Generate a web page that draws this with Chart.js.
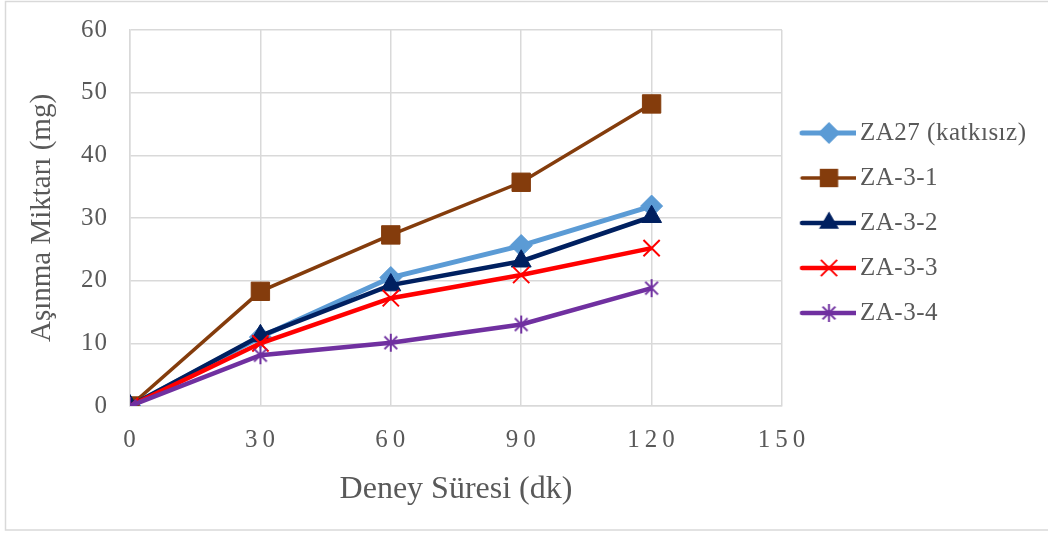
<!DOCTYPE html>
<html>
<head>
<meta charset="utf-8">
<script src="https://cdn.jsdelivr.net/npm/chart.js@4.4.1/dist/chart.umd.min.js"></script>
<style>
  html, body { margin: 0; padding: 0; background: #ffffff; }
  #wrap { width: 1048px; height: 534px; }
</style>
</head>
<body>
<div id="wrap"><canvas id="chart" width="1048" height="534"></canvas></div>
<script>
// Test duration (minutes) and wear loss (mg) for each alloy
const minutes = [0, 30, 60, 90, 120];
const seriesNames = ['ZA27 (katkısız)', 'ZA-3-1', 'ZA-3-2', 'ZA-3-3', 'ZA-3-4'];
const za27 = [0, 11.0, 20.5, 25.6, 31.9];
const za31 = [0, 18.3, 27.3, 35.7, 48.2];
const za32 = [0, 11.2, 19.3, 23.1, 30.2];
const za33 = [0, 10.0, 17.2, 20.9, 25.2];
const za34 = [0, 8.1, 10.1, 13.0, 18.8];
const xTickValues = [0, 30, 60, 90, 120, 150];
const yTickValues = [0, 10, 20, 30, 40, 50, 60];
const xTitle = 'Deney Süresi (dk)';
const yTitle = 'Aşınma Miktarı (mg)';

const FONT = "'Liberation Serif', 'Times New Roman', serif";
const TEXT = '#595959';
const GRID = '#d9d9d9';

// six-armed asterisk marker (diagonal cross plus a vertical bar)
function asteriskMarker(color, size, lw) {
  const c = document.createElement('canvas');
  c.width = size; c.height = size;
  const g = c.getContext('2d');
  const m = size / 2, r = size / 2 - 1;
  const d = r * Math.SQRT1_2;
  g.strokeStyle = color; g.lineWidth = lw; g.lineCap = 'butt';
  g.beginPath();
  g.moveTo(m, m - r); g.lineTo(m, m + r);
  g.moveTo(m - d, m - d); g.lineTo(m + d, m + d);
  g.moveTo(m - d, m + d); g.lineTo(m + d, m - d);
  g.stroke();
  return c;
}

const styles = [
  { color: '#5B9BD5', width: 5, point: 'rectRot', radius: 11, pw: 1 },
  { color: '#843C0C', width: 3.5, point: 'rect', radius: 13, pw: 1 },
  { color: '#002060', width: 4.5, point: 'triangle', radius: 11.5, pw: 1 },
  { color: '#FF0000', width: 4.5, point: 'crossRot', radius: 11.5, pw: 2 },
  { color: '#7030A0', width: 4.5, point: asteriskMarker('#7030A0', 20, 2), radius: 9, pw: 2 }
];
const values = [za27, za31, za32, za33, za34];

// legend icon: a line segment with the series marker on it
function legendIcon(st) {
  const W = 62, H = 28;
  const c = document.createElement('canvas');
  c.width = W; c.height = H;
  const g = c.getContext('2d');
  const cy = H / 2, x0 = 8.25, x1 = 62.25, cx = (x0 + x1) / 2;
  g.strokeStyle = st.color; g.lineWidth = st.width; g.lineCap = 'round';
  g.beginPath(); g.moveTo(x0, cy); g.lineTo(x1 - 1, cy); g.stroke();
  g.fillStyle = st.color; g.strokeStyle = st.color; g.lineCap = 'butt';
  const r = st.radius;
  if (typeof st.point !== 'string') {
    g.drawImage(st.point, cx - st.point.width / 2, cy - st.point.height / 2);
  } else if (st.point === 'rectRot') {
    g.beginPath(); g.moveTo(cx, cy - r); g.lineTo(cx + r, cy); g.lineTo(cx, cy + r); g.lineTo(cx - r, cy); g.closePath(); g.fill();
  } else if (st.point === 'rect') {
    const s = r * Math.SQRT1_2; g.fillRect(cx - s, cy - s, 2 * s, 2 * s);
  } else if (st.point === 'triangle') {
    g.beginPath();
    for (let k = 0; k < 3; k++) {
      const a = k * 2 * Math.PI / 3;
      const px = cx + Math.sin(a) * r, py = cy - Math.cos(a) * r;
      if (k === 0) g.moveTo(px, py); else g.lineTo(px, py);
    }
    g.closePath(); g.fill();
  } else if (st.point === 'crossRot') {
    const d = r * Math.SQRT1_2; g.lineWidth = st.pw;
    g.beginPath(); g.moveTo(cx - d, cy - d); g.lineTo(cx + d, cy + d); g.moveTo(cx - d, cy + d); g.lineTo(cx + d, cy - d); g.stroke();
  }
  return c;
}

const datasets = seriesNames.map((name, i) => ({
  label: name,
  data: minutes.map((m, j) => ({ x: m, y: values[i][j] })),
  borderColor: styles[i].color,
  backgroundColor: styles[i].color,
  borderWidth: styles[i].width,
  pointStyle: styles[i].point,
  pointRadius: styles[i].radius,
  pointHoverRadius: styles[i].radius,
  pointBorderWidth: styles[i].pw,
  pointBorderColor: styles[i].color,
  pointBackgroundColor: styles[i].color,
  tension: 0,
  order: seriesNames.length - i
}));
const icons = styles.map(legendIcon);

const framePlugin = {
  id: 'frame',
  beforeDraw(chart) {
    const ctx = chart.ctx;
    ctx.save();
    ctx.fillStyle = '#ffffff';
    ctx.fillRect(0, 0, chart.width, chart.height);
    ctx.strokeStyle = GRID; ctx.lineWidth = 1.5;
    ctx.strokeRect(5.5, 1.5, chart.width + 10, 528.5);
    ctx.restore();
  }
};

function spaced(obj, key, spacing, dx) {
  if (obj['_sp_' + key]) return;
  const orig = obj[key];
  obj[key] = function (...args) {
    const ctx = this.ctx;
    ctx.save();
    ctx.letterSpacing = spacing;
    if (dx) ctx.translate(dx, 0);
    orig.apply(this, args);
    ctx.restore();
  };
  obj['_sp_' + key] = true;
}

const tweakPlugin = {
  id: 'tweak',
  beforeLayout(chart) {
    const lg = chart.legend;
    if (lg && !lg._fixedFit) {
      const f = lg.fit;
      lg.fit = function () { f.call(this); this.width = 266; };
      lg._fixedFit = true;
    }
  },
  afterLayout(chart) {
    const lg = chart.legend;
    lg.top = 35; lg.bottom = 411; lg.height = 376;
    spaced(chart.scales.x, 'drawLabels', '5px', 2);
    spaced(chart.scales.y, 'drawLabels', '1px', 0);
    spaced(lg, 'draw', '0.5px', 0);
  }
};

function noEdgePadding(s) {
  s.paddingTop = 0; s.paddingBottom = 0; s.paddingLeft = 0; s.paddingRight = 0;
}

new Chart(document.getElementById('chart'), {
  type: 'line',
  data: { datasets },
  plugins: [framePlugin, tweakPlugin],
  options: {
    responsive: false,
    animation: false,
    devicePixelRatio: 1,
    layout: { padding: { left: 5, right: 0, top: 30, bottom: 8 } },
    font: { family: FONT },
    plugins: {
      tooltip: { enabled: false },
      legend: {
        position: 'right',
        fullSize: false,
        labels: {
          usePointStyle: true,
          pointStyleWidth: 45.5,
          padding: 20,
          color: TEXT,
          font: { family: FONT, size: 25 },
          generateLabels: () => seriesNames.map((n, i) => ({
            text: n, pointStyle: icons[i], fillStyle: styles[i].color,
            strokeStyle: styles[i].color, lineWidth: 0, hidden: false,
            datasetIndex: i, fontColor: TEXT
          }))
        }
      }
    },
    scales: {
      x: {
        type: 'linear', min: 0, max: 150,
        afterBuildTicks: (s) => { s.ticks = xTickValues.map(v => ({ value: v })); },
        afterFit: (s) => { s.height = 120; noEdgePadding(s); },
        grid: { color: GRID, lineWidth: 1.5, drawTicks: false },
        border: { color: GRID, width: 1.5 },
        ticks: { color: TEXT, font: { family: FONT, size: 25 }, padding: 19, maxRotation: 0, autoSkip: false },
        title: { display: true, text: xTitle, color: TEXT, font: { family: FONT, size: 32, weight: 'normal' }, padding: { top: 0, bottom: 17 } }
      },
      y: {
        type: 'linear', min: 0, max: 60,
        afterBuildTicks: (s) => { s.ticks = yTickValues.map(v => ({ value: v })); },
        afterFit: (s) => { s.width = 125; noEdgePadding(s); },
        grid: { color: GRID, lineWidth: 1.5, drawTicks: false },
        border: { color: GRID, width: 1.5 },
        ticks: { color: TEXT, font: { family: FONT, size: 25 }, padding: 22 },
        title: { display: true, text: yTitle, color: TEXT, font: { family: FONT, size: 29, weight: 'normal' }, padding: { top: 20, bottom: 0 } }
      }
    }
  }
});
</script>
</body>
</html>
